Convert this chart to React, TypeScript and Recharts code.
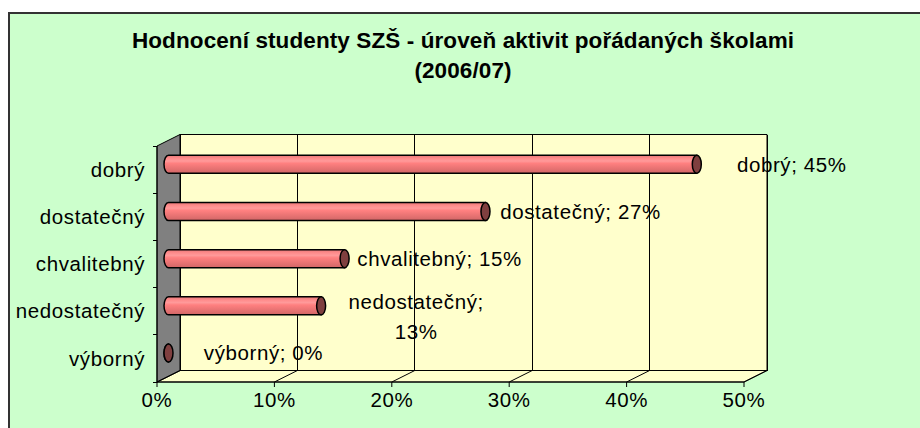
import React from 'react';
import { BarChart, Bar, XAxis, YAxis, ReferenceArea, LabelList } from 'recharts';

// hodnocení - podíl odpovědí
const categories = ['dobrý', 'dostatečný', 'chvalitebný', 'nedostatečný', 'výborný'];
const shares = [0.45, 0.27, 0.15, 0.13, 0.0];
const xTicks = [0, 0.1, 0.2, 0.3, 0.4, 0.5];
const titleLines = ['Hodnocení studenty SZŠ - úroveň aktivit pořádaných školami', '(2006/07)'];

const data = categories.map((name, i) => ({
  name,
  value: shares[i],
  label: `${name}; ${Math.round(shares[i] * 100)}%`,
}));

// 3D depth offset of the back wall
const DX = 23;
const DY = -11.5;
const FONT = '"Liberation Sans", Arial, sans-serif';
const TEXT = { fontFamily: FONT, fontSize: 20.5, letterSpacing: 0.6 };

const pct = (v: number) => `${Math.round(v * 100)}%`;

function Walls(props: any) {
  const { x, y, width: w, height: h } = props;
  const b = y + h;
  const n = categories.length;
  const lo = xTicks[0];
  const hi = xTicks[xTicks.length - 1];
  return (
    <g>
      <polygon
        points={`${x + DX},${y + DY} ${x + w + DX},${y + DY} ${x + w + DX},${b + DY} ${x + DX},${b + DY}`}
        fill="#FFFFCC"
        stroke="#000"
      />
      <polygon
        points={`${x},${b} ${x + DX},${b + DY} ${x + w + DX},${b + DY} ${x + w},${b}`}
        fill="#FFFFCC"
        stroke="#000"
      />
      <polygon
        points={`${x},${y} ${x + DX},${y + DY} ${x + DX},${b + DY} ${x},${b}`}
        fill="#808080"
        stroke="#000"
      />
      {xTicks.map((t) => {
        const gx = x + (w * (t - lo)) / (hi - lo);
        return (
          <g key={t}>
            <line x1={gx + DX} y1={y + DY} x2={gx + DX} y2={b + DY} stroke="#000" shapeRendering="crispEdges" />
            <line x1={gx} y1={b} x2={gx + DX} y2={b + DY} stroke="#000" />
          </g>
        );
      })}
      {Array.from({ length: n + 1 }, (_, i) => (
        <line
          key={i}
          x1={x - 4}
          x2={x}
          y1={y + (h * i) / n}
          y2={y + (h * i) / n}
          stroke="#000"
          shapeRendering="crispEdges"
        />
      ))}
    </g>
  );
}

function Cylinder(props: any) {
  const { x, y, width, height } = props;
  const x0 = x + DX / 2;
  const x1 = x0 + Math.max(width || 0, 0);
  const top = y + DY / 2;
  const r = height / 2;
  const bot = top + height;
  const rx = 4.5;
  return (
    <g>
      <path
        d={`M${x1},${top} L${x0},${top} A${rx},${r} 0 0 0 ${x0},${bot} L${x1},${bot} Z`}
        fill="url(#cylGrad)"
        stroke="#000"
        strokeWidth={1.5}
      />
      <ellipse cx={x1} cy={top + r} rx={rx} ry={r} fill="#7F3F3F" stroke="#000" strokeWidth={1.5} />
    </g>
  );
}

function BarLabel(props: any) {
  const vb = props.viewBox ?? props;
  const x = vb.x ?? props.x;
  const y = vb.y ?? props.y;
  const width = vb.width ?? props.width ?? 0;
  const height = vb.height ?? props.height ?? 0;
  const text = String(props.value);
  const endX = x + width + DX / 2;
  const cy = y + height / 2 + DY / 2;
  const cx = endX + 95;
  if (text.length > 16) {
    const cut = text.indexOf(' ');
    return (
      <text textAnchor="middle" fill="#000" style={TEXT}>
        <tspan x={cx} y={cy - 4} dy="0.355em">{text.slice(0, cut)}</tspan>
        <tspan x={cx} y={cy + 26} dy="0.355em">{text.slice(cut + 1)}</tspan>
      </text>
    );
  }
  return (
    <text x={cx} y={cy} dy="0.355em" textAnchor="middle" fill="#000" style={TEXT}>
      {text}
    </text>
  );
}

export default function App() {
  const tickStyle = { fill: '#000', ...TEXT };
  return (
    <div style={{ position: 'absolute', left: 0, top: 0, width: 920, height: 428, background: '#fff', overflow: 'hidden' }}>
      <div
        style={{
          position: 'absolute',
          left: 8,
          top: 12,
          width: 940,
          height: 440,
          boxSizing: 'border-box',
          background: '#CCFFCC',
          borderTop: '2px solid #333',
          borderLeft: '2px solid #333',
        }}
      />
      <svg width={920} height={100} style={{ position: 'absolute', left: 0, top: 0 }}>
        {titleLines.map((line, i) => (
          <text
            key={i}
            x={463}
            y={48 + i * 30}
            textAnchor="middle"
            style={{ fontFamily: FONT, fontSize: 22.5, fontWeight: 'bold', letterSpacing: 0.1 }}
            fill="#000"
          >
            {line}
          </text>
        ))}
      </svg>
      <div style={{ position: 'absolute', left: 0, top: 0 }}>
        <BarChart
          width={920}
          height={428}
          data={data}
          layout="vertical"
          margin={{ top: 146, right: 176, bottom: 6, left: 10 }}
        >
          <defs>
            <linearGradient id="cylGrad" x1="0" y1="0" x2="0" y2="1">
              <stop offset="0%" stopColor="#E87878" />
              <stop offset="18%" stopColor="#FF8C8C" />
              <stop offset="32%" stopColor="#FF9A9A" />
              <stop offset="45%" stopColor="#FF8080" />
              <stop offset="100%" stopColor="#D26666" />
            </linearGradient>
          </defs>
          <XAxis
            type="number"
            domain={[xTicks[0], xTicks[xTicks.length - 1]]}
            ticks={xTicks}
            tickFormatter={pct}
            height={40}
            tickSize={5}
            tickMargin={5}
            tick={tickStyle}
            axisLine={{ stroke: '#000' }}
            tickLine={{ stroke: '#000' }}
            interval={0}
          />
          <YAxis
            type="category"
            dataKey="name"
            width={147}
            tickSize={0}
            tickMargin={12}
            tick={tickStyle}
            tickLine={false}
            axisLine={{ stroke: '#000' }}
            interval={0}
          />
          <ReferenceArea
            x1={xTicks[0]}
            x2={xTicks[xTicks.length - 1]}
            shape={(p: any) => <Walls {...p} />}
            ifOverflow="visible"
          />
          <Bar dataKey="value" barSize={18} shape={(p: any) => <Cylinder {...p} />} isAnimationActive={false}>
            <LabelList dataKey="label" content={(p: any) => <BarLabel {...p} />} />
          </Bar>
        </BarChart>
      </div>
    </div>
  );
}
